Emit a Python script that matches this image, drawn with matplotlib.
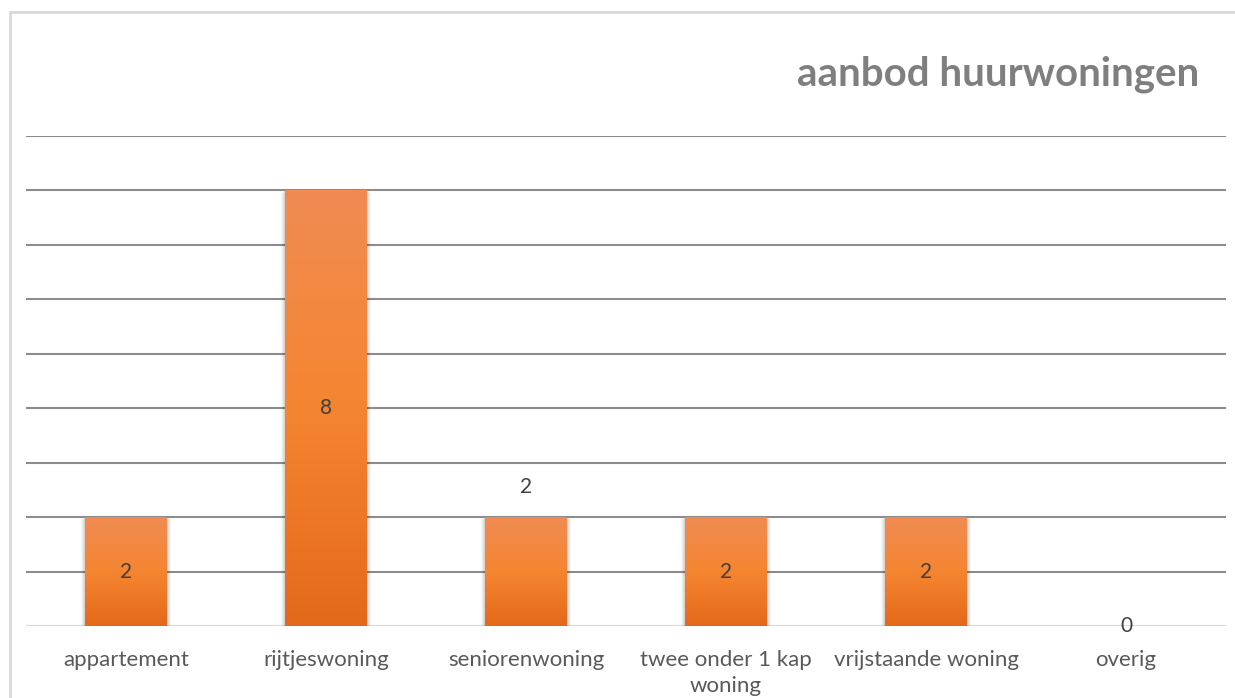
import numpy as np
import matplotlib.pyplot as plt
from matplotlib.patches import Rectangle
from matplotlib.colors import LinearSegmentedColormap

# Data
categories = ['appartement', 'rijtjeswoning', 'seniorenwoning',
              'twee onder 1 kap\nwoning', 'vrijstaande woning', 'overig']
values = [2, 8, 2, 2, 2, 0]
title = 'aanbod huurwoningen'

plt.rcParams['font.family'] = ['Lato', 'DejaVu Sans']

W, H = 1235, 698
fig = plt.figure(figsize=(W / 100, H / 100), dpi=100)

# light border around the chart (cut off at right/bottom like the original)
fig.patches.append(Rectangle((10 / W, -0.05), 1.2, (H - 12) / H + 0.05,
                             transform=fig.transFigure, fill=False,
                             edgecolor='#d9d9d9', linewidth=2, zorder=0))

ax = fig.add_axes([26 / W, (H - 626) / H, 1200 / W, 490 / H])
x = np.arange(len(categories))
width = 0.41

ax.set_xlim(-0.5, len(categories) - 0.5)
ax.set_ylim(0, 9)

# gridlines
for yv in range(1, 10):
    ax.axhline(yv, color='#8c8c8c', linewidth=1.5, zorder=1)
ax.axhline(0, color='#d9d9d9', linewidth=2.2, zorder=1)

# orange gradient bars with soft shadow
cmap = LinearSegmentedColormap.from_list('og', ['#e4691a', '#f58530', '#f08b52'])
grad = np.linspace(0, 1, 256).reshape(-1, 1)
for xi, v in zip(x, values):
    if v <= 0:
        continue
    for k, a in enumerate([0.03, 0.04, 0.05, 0.06]):
        pad = 0.018 * (4 - k) / 4
        ax.add_patch(Rectangle((xi - width / 2 - pad, -0.05 * (4 - k) / 4 - 0.02),
                               width + 2 * pad, v + 0.03,
                               facecolor='black', alpha=a, edgecolor='none', zorder=2))
    bar = ax.bar(xi, v, width=width, color='none', zorder=3)[0]
    im = ax.imshow(grad, cmap=cmap, aspect='auto', origin='lower',
                   extent=(xi - width / 2, xi + width / 2, 0, v), zorder=3)
    im.set_clip_path(bar)

# value labels
for xi, v, cat in zip(x, values, categories):
    if cat == 'seniorenwoning':
        ypos = v + 0.55
    elif v == 0:
        ypos = 0.0
    else:
        ypos = v / 2
    ax.text(xi, ypos, str(v), ha='center', va='center', fontsize=15,
            color='#404040', zorder=4)

ax.set_aspect('auto')
ax.set_xticks(x)
ax.set_xticklabels(categories, fontsize=16, color='#595959', linespacing=1.4,
                   va='top')
ax.tick_params(axis='x', length=0, pad=17)
ax.set_yticks([])
for s in ax.spines.values():
    s.set_visible(False)

fig.text(1199 / W, (H - 74) / H, title, ha='right', va='center',
         fontsize=29, fontweight='bold', color='#7f7f7f')

fig.savefig('out.png', dpi=100)
